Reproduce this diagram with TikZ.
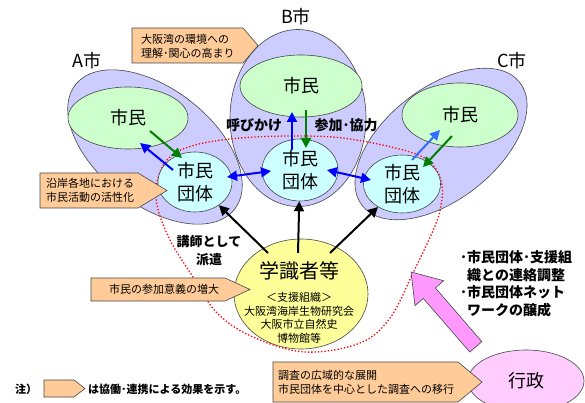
\documentclass[tikz,border=0pt]{standalone}
\usepackage{fontspec}
\setmainfont{Noto Sans CJK JP}
\usetikzlibrary{arrows.meta,shapes.geometric,calc}
\definecolor{lav}{RGB}{204,204,255}
\definecolor{cgreen}{RGB}{204,255,204}
\definecolor{ccyan}{RGB}{204,255,255}
\definecolor{cyel}{RGB}{255,255,153}
\definecolor{cpeach}{RGB}{255,204,153}
\definecolor{cpinkl}{RGB}{255,204,255}
\definecolor{cpink}{RGB}{255,153,255}
\definecolor{agreen}{RGB}{0,128,0}
\definecolor{ablue}{RGB}{0,0,255}
\definecolor{lblue}{RGB}{51,110,255}
\definecolor{edgec}{RGB}{70,70,70}
\newcommand{\effbox}[5]{%
  \draw[effect] (#1,#2) -- (#3,#2) -- (#4,{(#2+#5)/2}) -- (#3,#5) -- (#1,#5) -- cycle;}
\begin{document}
\begin{tikzpicture}[x=1pt,y=-1pt,
  ell/.style={ellipse, draw=edgec, line width=0.6pt, inner sep=0pt},
  outerell/.style={ell, fill=lav},
  citz/.style={ell, fill=cgreen, font=\fontsize{18}{23}\selectfont},
  grp/.style={ell, fill=ccyan, align=center, font=\fontsize{18}{23}\selectfont},
  arr/.style={line width=2pt, -{Triangle[length=10pt,width=10pt]}},
  darr/.style={line width=2pt, {Triangle[length=10pt,width=10pt]}-{Triangle[length=10pt,width=10pt]}},
  effect/.style={draw=edgec, fill=cpeach, line width=0.6pt},
  efftext/.style={font=\fontsize{11}{13.5}\selectfont, align=left, inner sep=0pt},
  boldlab/.style={font=\fontsize{14}{17.5}\selectfont\bfseries, inner sep=0pt, align=left},
  city/.style={font=\fontsize{18}{20}\selectfont, inner sep=0pt}]
\useasboundingbox (0,0) rectangle (585,403);
\fill[white] (0,0) rectangle (585,403);

% outer city ellipses
\node[outerell, minimum width=202pt, minimum height=116pt, rotate=-38] (Aout) at (155,147) {};
\node[outerell, minimum width=200pt, minimum height=112pt, rotate=38] (Cout) at (441,144) {};
\node[outerell, minimum width=136pt, minimum height=177pt] (Bout) at (298,118) {};

% red dotted region
\draw[red, dotted, line width=1.3pt] plot[smooth cycle, tension=0.6] coordinates {
 (300,136) (350,139) (410,152) (433,165) (442,185) (441,205) (435,226) (413,273)
 (390,318) (360,343) (305,352) (253,337) (217,313) (193,277) (170,240) (157,205)
 (158,178) (170,157) (195,145) (240,138)};

% citizens
\node[citz, minimum width=120pt, minimum height=62pt] (Amin) at (128,118) {市民};
\node[citz, minimum width=122pt, minimum height=62pt] (Bmin) at (301,86) {市民};
\node[citz, minimum width=116pt, minimum height=64pt] (Cmin) at (460,115) {市民};

% groups
\node[grp, minimum width=74pt, minimum height=60pt] (Adan) at (195,182) {市民\\団体};
\node[grp, minimum width=76pt, minimum height=62pt] (Bdan) at (300,170) {市民\\団体};
\node[grp, minimum width=77pt, minimum height=58pt] (Cdan) at (402,184) {市民\\団体};

% experts
\node[ell, fill=cyel, minimum width=134pt, minimum height=110pt] (gak) at (301,294) {};
\node[font=\fontsize{20}{24}\selectfont, inner sep=0pt] (gakT) at (299,271) {学識者等};
\node[efftext, align=center] (gakS) at (299,318) {＜支援組織＞\\大阪湾海岸生物研究会\\大阪市立自然史\\博物館等};

% administration
\node[ell, fill=cpinkl, minimum width=116pt, minimum height=62pt, font=\fontsize{18}{20}\selectfont] (gyo) at (526,381) {行政};

% city labels
\node[city] (Alab) at (87,61) {A市};
\node[city] (Blab) at (296,17) {B市};
\node[city] (Clab) at (512,61) {C市};

% arrows between groups
\draw[darr, ablue] ($(Adan)+(32,-5)$) -- ($(Bdan)+(-29,1)$);
\draw[darr, ablue] ($(Bdan)+(27,0)$) -- ($(Cdan)+(-31,-4)$);
% A
\draw[arr, agreen] ($(Amin)+(22,13)$) -- ($(Adan)+(-13,-24)$);
\draw[arr, ablue] ($(Adan)+(-22,-12)$) -- ($(Amin)+(12,25)$);
% B
\draw[arr, ablue] ($(Bdan)+(-8,-20)$) -- ($(Bmin)+(-9,26)$);
\draw[arr, agreen] ($(Bmin)+(5,24)$) -- ($(Bdan)+(6,-22)$);
% C
\draw[arr, lblue] ($(Cdan)+(10,-24)$) -- ($(Cmin)+(-20,15)$);
\draw[arr, agreen] ($(Cmin)+(-8,21)$) -- ($(Cdan)+(21,-17)$);
% experts to groups
\draw[arr, black] ($(gak)+(-33,-41)$) -- (Adan);
\draw[arr, black] ($(gak)+(-3,-41)$) -- (Bdan);
\draw[arr, black] ($(gak)+(29,-41)$) -- (Cdan);

% pink arrow from administration
\begin{scope}[shift={($(gyo)+(-115,-109)$)}, rotate=130.9]
\draw[draw=edgec, fill=cpink, line width=0.6pt] (0,0) -- (-28,19) -- (-28,8) -- (-99,8) -- (-99,-8) -- (-28,-8) -- (-28,-19) -- cycle;
\end{scope}

% effect pentagons
\effbox{132}{28}{243}{258}{63}
\node[efftext, anchor=west] (e1) at (141,46.5) {大阪湾の環境への\\理解･関心の高まり};
\effbox{40}{173}{138}{167}{208}
\node[efftext, anchor=west] (e2) at (46,190.5) {沿岸各地における\\市民活動の活性化};
\effbox{91}{278}{225}{250}{301}
\node[efftext] (e3) at (164,289.5) {市民の参加意義の増大};
\effbox{273}{362}{458}{482}{402}
\node[efftext, anchor=west] (e4) at (278,382.5) {調査の広域的な展開\\市民団体を中心とした調査への移行};
\effbox{44}{380}{74}{85}{397}

% bold labels
\node[boldlab] (l1) at (254,125) {呼びかけ};
\node[boldlab] (l2) at (346,125) {参加･協力};
\node[boldlab, align=center, font=\fontsize{13}{18}\selectfont\bfseries] (l3) at (209,251) {講師として\\派遣};
\node[boldlab, anchor=west] (l4) at (460,284) {･市民団体･支援組\\\phantom{･}織との連絡調整\\･市民団体ネット\\\phantom{･}ワークの醸成};
\node[boldlab, font=\fontsize{11}{13}\selectfont\bfseries] (l5) at (26,389) {注）};
\node[boldlab, anchor=west, font=\fontsize{11}{13}\selectfont\bfseries] (l6) at (88,389) {は協働･連携による効果を示す。};
\end{tikzpicture}
\end{document}
